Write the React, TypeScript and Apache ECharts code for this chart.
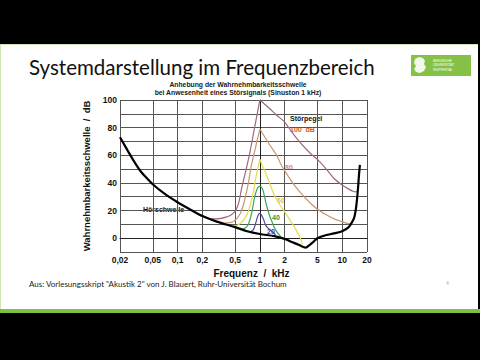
import React, { useEffect, useRef } from "react";
import * as echarts from "echarts";

// Axis ticks (frequency in kHz, level in dB)
const X_TICKS = [0.02, 0.05, 0.1, 0.2, 0.5, 1, 2, 5, 10, 20];
const X_TICK_LABELS = ["0,02", "0,05", "0,1", "0,2", "0,5", "1", "2", "5", "10", "20"];

// Hörschwelle (threshold in quiet)
const hsF = [0.02, 0.025, 0.03, 0.035, 0.04, 0.05, 0.07, 0.1, 0.15, 0.2, 0.3, 0.5, 0.7, 1, 1.5, 2, 2.5, 3, 3.6, 4, 4.5, 5, 6, 8, 10, 12, 13, 14, 14.8, 15.5, 16, 16.4];
const hsDb = [73, 63, 55, 49, 45, 39, 32, 26, 20, 16, 12, 8, 5, 3, 1.5, -0.5, -3, -5, -6.8, -5, -2.5, 0, 1.8, 3.5, 5, 8, 11, 15, 23, 35, 46, 53];

// Masked thresholds, Störpegel 100 dB
const m100LeftF = [0.24, 0.3, 0.4, 0.45, 0.5, 0.55, 0.6, 0.67, 0.75, 0.85, 1];
const m100LeftDb = [14, 14, 15.5, 17, 19.5, 25, 36, 48, 61, 78, 100];
const m100RightF = [1, 1.3, 1.6, 2, 2.5, 3, 4, 5, 6.4, 8, 10, 12, 13.5, 14.5, 15.4];
const m100RightDb = [100, 94, 89, 84, 76, 70, 62, 57, 50, 43, 38.5, 35.5, 34, 33.5, 34];

// Störpegel 80 dB
const m80LeftF = [0.33, 0.45, 0.52, 0.58, 0.63, 0.68, 0.73, 0.79, 0.85, 0.92, 1];
const m80LeftDb = [11, 11.5, 14, 18, 24, 32, 41, 53, 61, 70, 79];
const m80RightF = [1, 1.3, 1.6, 1.85, 2.2, 2.5, 3, 4, 5, 6.4, 8, 10, 12, 13.2];
const m80RightDb = [79, 68, 60, 52, 45, 40, 34, 26, 21, 17, 14, 12, 10.5, 11.5];

// Störpegel 60 dB
const m60LeftF = [0.45, 0.5, 0.57, 0.65, 0.73, 0.83, 0.9, 1];
const m60LeftDb = [9, 9, 10.5, 14, 20, 33, 45, 57];
const m60RightF = [1, 1.1, 1.2, 1.35, 1.5, 1.75, 2, 2.5, 3, 3.3];
const m60RightDb = [57, 51, 46, 38, 31, 24, 19, 10, 2, -4.5];

// Störpegel 40 dB
const m40F = [0.6, 0.67, 0.73, 0.8, 0.86, 0.93, 1, 1.07, 1.13, 1.2, 1.3, 1.4, 1.55, 1.8];
const m40Db = [6.5, 7.5, 10.5, 19, 29, 36, 37.5, 36, 31, 24, 17, 12, 6, 1];

// Störpegel 20 dB
const m20F = [0.75, 0.83, 0.9, 0.95, 1, 1.05, 1.1, 1.2, 1.4, 1.55];
const m20Db = [4.5, 6, 12, 16.5, 18, 16.5, 14, 8.5, 5, 2.5];

const pts = (f: number[], db: number[]) => f.map((v, i) => [Math.log10(v), db[i]]);

const FONT = "'Liberation Sans', Arial, sans-serif";

function lineSeries(name: string, data: number[][], color: string, width: number, smooth: number | boolean, z = 3) {
  return {
    type: "line",
    name,
    data,
    showSymbol: false,
    symbol: "none",
    smooth,
    z,
    lineStyle: { color, width },
    silent: true,
  };
}

export default function App() {
  const ref = useRef<HTMLDivElement>(null);

  useEffect(() => {
    if (!ref.current) return;
    const chart = echarts.init(ref.current, null, { renderer: "svg" });
    const xVals = X_TICKS.map((t) => Math.log10(t));
    const xLabel = (v: number) => {
      for (let i = 0; i < xVals.length; i++) if (Math.abs(xVals[i] - v) < 1e-6) return X_TICK_LABELS[i];
      return "";
    };
    chart.setOption({
      animation: false,
      grid: { left: 120, top: 100, width: 247, height: 152, containLabel: false },
      xAxis: {
        type: "value",
        min: Math.log10(0.02),
        max: Math.log10(20),
        name: "Frequenz  /  kHz",
        nameLocation: "middle",
        nameGap: 16,
        nameTextStyle: { fontFamily: FONT, fontSize: 10, fontWeight: "bold", color: "#111", padding: [0, 0, 0, 16] },
        axisLine: { show: true, lineStyle: { color: "#222", width: 1 } },
        axisTick: { show: false, customValues: xVals },
        axisLabel: {
          customValues: xVals,
          formatter: xLabel,
          fontFamily: FONT,
          fontSize: 8.5,
          fontWeight: "bold",
          color: "#111",
          margin: 3,
        },
        splitLine: { show: true, lineStyle: { color: "#555", width: 1 } },
      },
      yAxis: {
        type: "value",
        min: -10,
        max: 100,
        interval: 10,
        name: "Wahrnehmbarkeitsschwelle  /  dB",
        nameLocation: "middle",
        nameGap: 17,
        nameTextStyle: { fontFamily: FONT, fontSize: 9.5, fontWeight: "bold", color: "#111" },
        axisLine: { show: true, lineStyle: { color: "#222", width: 1 } },
        axisTick: { show: false },
        axisLabel: {
          formatter: (v: number) => (v % 20 === 0 ? String(v) : ""),
          fontFamily: FONT,
          fontSize: 8.5,
          fontWeight: "bold",
          color: "#111",
          margin: 3,
        },
        splitLine: { show: true, lineStyle: { color: "#555", width: 1 } },
      },
      series: [
        lineSeries("100 dB links", pts(m100LeftF, m100LeftDb), "#a0687a", 1.2, 0.3),
        lineSeries("100 dB rechts", pts(m100RightF, m100RightDb), "#a0687a", 1.2, 0.3),
        lineSeries("80 dB links", pts(m80LeftF, m80LeftDb), "#c89670", 1.2, 0.3),
        lineSeries("80 dB rechts", pts(m80RightF, m80RightDb), "#c89670", 1.2, 0.3),
        lineSeries("60 dB links", pts(m60LeftF, m60LeftDb), "#e6dc4a", 1.2, 0.3),
        lineSeries("60 dB rechts", pts(m60RightF, m60RightDb), "#e6dc4a", 1.2, 0.3),
        lineSeries("40 dB", pts(m40F, m40Db), "#3aa65a", 1.2, 0.4),
        lineSeries("20 dB", pts(m20F, m20Db), "#5444a6", 1.2, 0.4),
        lineSeries("Hörschwelle", pts(hsF, hsDb), "#000", 2.2, 0.3, 5),
      ],
      graphic: [
        {
          type: "text",
          left: 29,
          top: 56,
          style: { text: "Systemdarstellung im Frequenzbereich", fontFamily: "Lato, 'Open Sans', sans-serif", fontSize: 20.5, fill: "#111" },
        },
        {
          type: "text",
          x: 238,
          y: 81,
          style: {
            text: "Anhebung der Wahrnehmbarkeitsschwelle\nbei Anwesenheit eines Störsignals (Sinuston 1 kHz)",
            align: "center",
            fontFamily: FONT,
            fontSize: 6.8,
            fontWeight: "bold",
            lineHeight: 7.4,
            fill: "#1a1a1a",
          },
        },
        {
          type: "text",
          left: 29,
          top: 280,
          style: { text: "Aus: Vorlesungsskript \"Akustik 2\" von J. Blauert, Ruhr-Universität Bochum", fontFamily: "Lato, 'Open Sans', sans-serif", fontSize: 8, fill: "#222" },
        },
        { type: "text", left: 446, top: 280, style: { text: "4", fontFamily: FONT, fontSize: 5, fill: "#aaa" } },
        // logo
        { type: "rect", shape: { x: 411, y: 55, width: 60, height: 21 }, style: { fill: "#84c146" } },
        {
          type: "polygon",
          shape: { points: [[415, 59], [419, 57], [423, 58], [425, 61], [424, 64], [426, 67], [424, 71], [420, 73], [416, 72], [414, 69], [416, 66], [414, 63]] },
          style: { fill: "#f2f8ea" },
        },
        { type: "text", x: 433, y: 59, style: { text: "BERGISCHE", fontFamily: FONT, fontSize: 3.2, fill: "#fff" } },
        { type: "text", x: 433, y: 63.5, style: { text: "UNIVERSITÄT", fontFamily: FONT, fontSize: 3.2, fill: "#fff" } },
        { type: "text", x: 433, y: 68, style: { text: "WUPPERTAL", fontFamily: FONT, fontSize: 3.2, fill: "#fff" } },
        // chart annotations
        { type: "text", x: 143, y: 206, style: { text: "Hörschwelle", fontFamily: FONT, fontSize: 7, fontWeight: "bold", fill: "#111" } },
        { type: "text", x: 290, y: 115, style: { text: "Störpegel", fontFamily: FONT, fontSize: 7, fontWeight: "bold", fill: "#111" } },
        { type: "text", x: 290, y: 125.5, style: { text: "100  dB", fontFamily: FONT, fontSize: 7, fontWeight: "bold", fill: "#d2602e" } },
        { type: "text", x: 285, y: 164, style: { text: "80", fontFamily: FONT, fontSize: 7, fontWeight: "bold", fill: "#e88a30" } },
        { type: "text", x: 277, y: 197, style: { text: "60", fontFamily: FONT, fontSize: 7, fontWeight: "bold", fill: "#d8cc28" } },
        { type: "text", x: 272, y: 214, style: { text: "40", fontFamily: FONT, fontSize: 7, fontWeight: "bold", fill: "#2a9a4a" } },
        { type: "text", x: 267, y: 228, style: { text: "20", fontFamily: FONT, fontSize: 7, fontWeight: "bold", fill: "#4a3aa0" } },
      ],
    });
    return () => chart.dispose();
  }, []);

  return (
    <div style={{ position: "fixed", left: 0, top: 0, width: 480, height: 360, background: "#000", overflow: "hidden" }}>
      <div style={{ position: "absolute", left: 0, top: 44, width: 478, height: 265, background: "#fff", boxSizing: "border-box", borderTop: "1px solid #cfe6b4", borderLeft: "1px solid #cfe6b4" }} />
      <div style={{ position: "absolute", left: 0, top: 309, width: 480, height: 4, background: "#7dc142" }} />
      <div ref={ref} style={{ position: "absolute", left: 0, top: 0, width: 480, height: 360 }} />
    </div>
  );
}
